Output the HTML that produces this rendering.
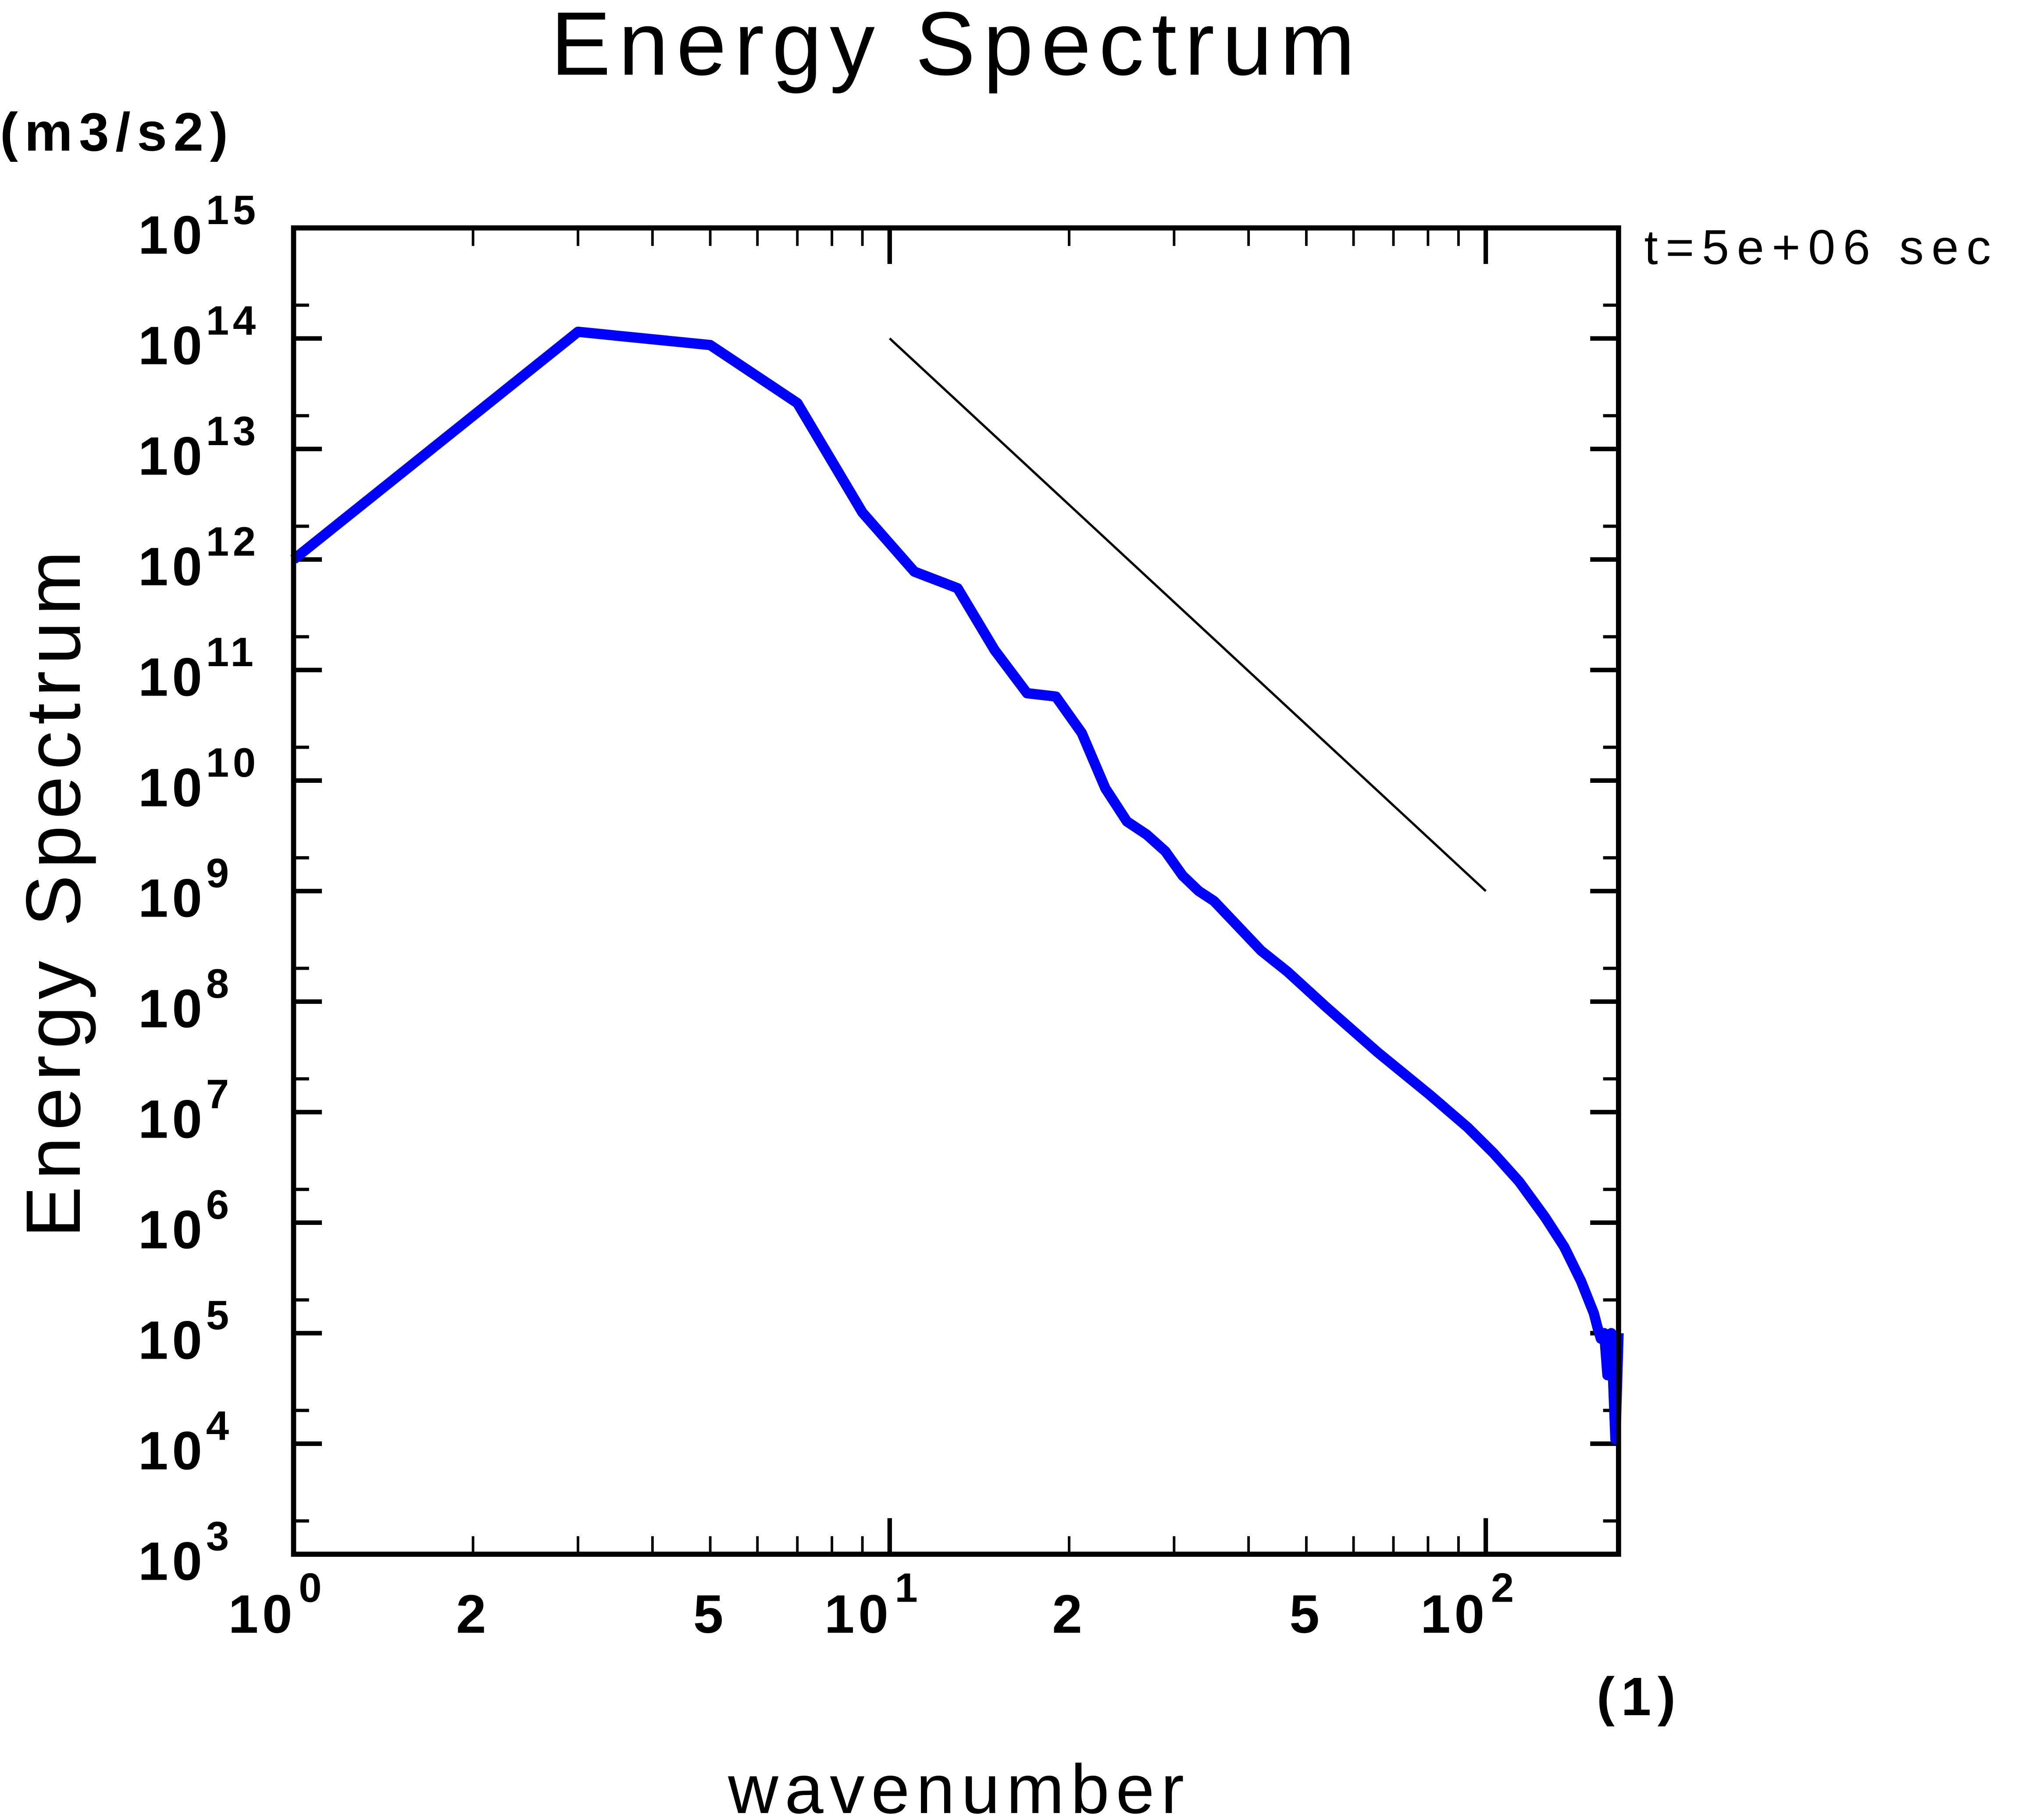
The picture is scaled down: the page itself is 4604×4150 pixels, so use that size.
<!DOCTYPE html>
<html><head><meta charset="utf-8"><style>
html,body{margin:0;padding:0;background:#fff;}
svg{display:block;}
text{font-family:"Liberation Sans",sans-serif;fill:#000;}
</style></head><body>
<svg id="chart" width="4604" height="4150" viewBox="0 0 1568 1413.4" xmlns="http://www.w3.org/2000/svg">
<text x="743" y="58" font-size="70" text-anchor="middle" letter-spacing="6">Energy Spectrum</text>
<text x="0" y="117" font-size="42" font-weight="bold" letter-spacing="5">(m3/s2)</text>
<text x="1277" y="205" font-size="38" letter-spacing="6">t=5e+06 sec</text>
<text transform="translate(62,692) rotate(-90)" font-size="60" text-anchor="middle" letter-spacing="5">Energy Spectrum</text>
<text x="745" y="1408" font-size="54" text-anchor="middle" letter-spacing="5">wavenumber</text>
<text x="1240" y="1332" font-size="42" font-weight="bold" letter-spacing="5">(1)</text>
<g id="ticks"></g>
<g id="marks"></g>
<rect x="228" y="177" width="1029" height="1030" fill="none" stroke="#000" stroke-width="4"/>
</svg>
<script>
const wavenumbers = [1,3,5,7,9,11,13,15,17,19,21,23,25,27,29,31,33,35,42,46.5,54,65.9,80.4,93.3,103,113.8,125.7,135.4,144.5,151.8,154,156,158,160,162.4,165,167];
const energyExp = [12.0,14.06,13.94,13.415,12.425,11.89,11.74,11.18,10.79,10.76,10.43,9.93,9.63,9.51,9.36,9.14,9.0,8.91,8.46,8.27,7.95,7.54,7.16,6.86,6.63,6.37,6.05,5.78,5.47,5.18,5.05,4.95,5.0,4.62,5.0,4.04,5.0];
const refK = [10,100];
const refExp = [14,9];
const yTickExps = [3,4,5,6,7,8,9,10,11,12,13,14,15];
const xTickExps = [0,1,2];
const xMinorLabels = ["2","5"];

const L=228,R=1257,T=177,B=1207;
const xMin=0, xMax=Math.log10(167), yMin=3, yMax=15;
function X(k){return L+(Math.log10(k)-xMin)/(xMax-xMin)*(R-L);}
function Y(e){return B-(e-yMin)/(yMax-yMin)*(B-T);}
const NS="http://www.w3.org/2000/svg";
const tg=document.getElementById('ticks'), mg=document.getElementById('marks');
function line(g,x1,y1,x2,y2,w){const l=document.createElementNS(NS,'line');
l.setAttribute('x1',x1);l.setAttribute('y1',y1);l.setAttribute('x2',x2);l.setAttribute('y2',y2);
l.setAttribute('stroke','#000');l.setAttribute('stroke-width',w);


g.appendChild(l);return l;}
function txt(x,y,s,size,anchor,name){const t=document.createElementNS(NS,'text');
t.setAttribute('x',x);t.setAttribute('y',y);t.setAttribute('font-size',size);t.setAttribute('text-anchor',anchor);
t.setAttribute('font-weight','bold');t.setAttribute('letter-spacing','3');


t.textContent=s;tg.appendChild(t);return t;}
yTickExps.forEach(e=>{const y=Y(e);
 line(tg,L,y,L+22,y,3.5);line(tg,R,y,R-22,y,3.5);
 txt(160,y+20,'10',42,'end','y-tick-label');txt(160,y-3,String(e),32,'start','y-tick-exponent');
 if(e<15){const ym=Y(e+Math.log10(2));line(tg,L,ym,L+12,ym,2.5);line(tg,R,ym,R-12,ym,2.5);}
});
xTickExps.forEach(e=>{const x=X(Math.pow(10,e));
 line(tg,x,B,x,B-28,3.5);line(tg,x,T,x,T+28,3.5);
 txt(x+2,1268,'10',42,'end','x-tick-label');txt(x+4,1244,String(e),32,'start','x-tick-exponent');
 for(let m=2;m<=9;m++){const k=m*Math.pow(10,e);if(k>167)break;const xm=X(k);
  line(tg,xm,B,xm,B-14,2);line(tg,xm,T,xm,T+14,2);
  if(e<2&&(m===2||m===5))txt(xm,1268,String(m),42,'middle','x-minor-label');}
});
const rl=document.createElementNS(NS,'line');
rl.setAttribute('x1',X(refK[0]));rl.setAttribute('y1',Y(refExp[0]));
rl.setAttribute('x2',X(refK[1]));rl.setAttribute('y2',Y(refExp[1]));
rl.setAttribute('stroke','#000');rl.setAttribute('stroke-width',1.8);


mg.appendChild(rl);
const p=document.createElementNS(NS,'polyline');
p.setAttribute('points',wavenumbers.map((k,i)=>X(k).toFixed(2)+','+Y(energyExp[i]).toFixed(2)).join(' '));
p.setAttribute('fill','none');p.setAttribute('stroke','#0000ff');p.setAttribute('stroke-width',8);
p.setAttribute('stroke-linejoin','round');


mg.appendChild(p);
</script>
</body></html>
